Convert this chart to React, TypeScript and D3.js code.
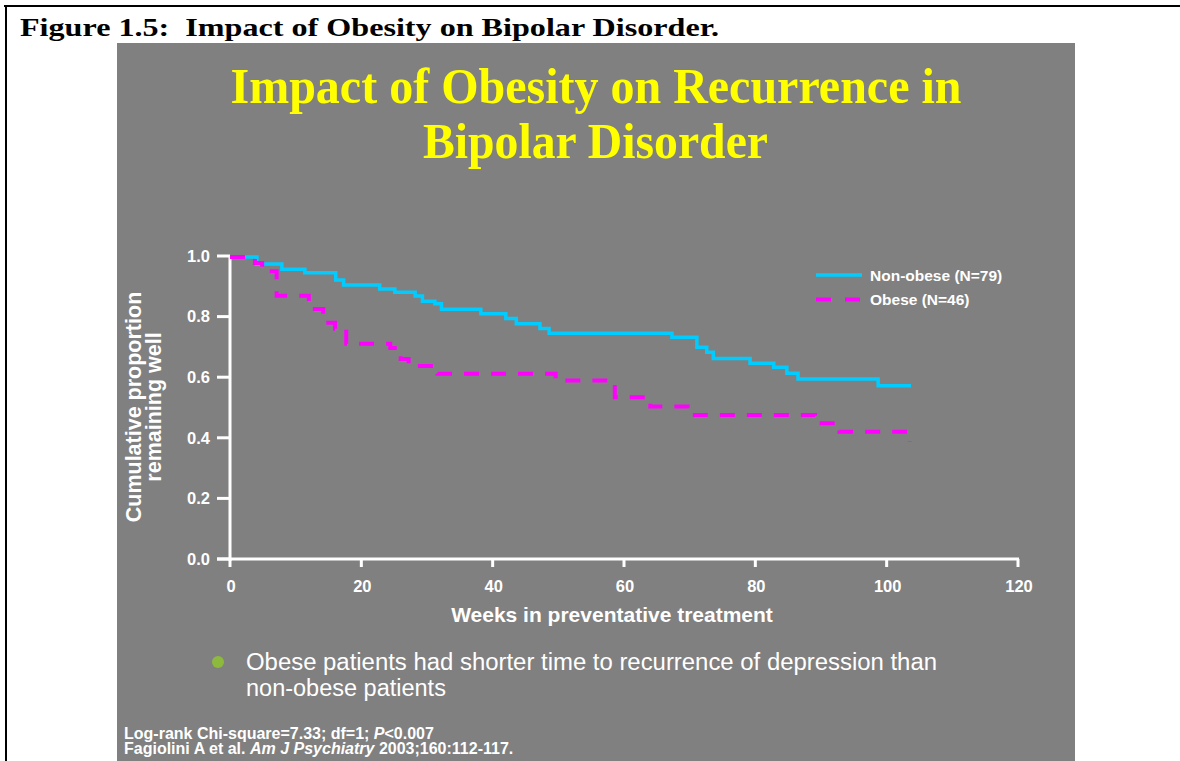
import React from "react";
import * as d3 from "d3";

// ---- Data ----
const xTickValues = [0, 20, 40, 60, 80, 100, 120];
const yTickValues = [0, 0.2, 0.4, 0.6, 0.8, 1.0];

const nonObeseWeeks = [0, 4.1, 7.9, 11.4, 16.1, 17.3, 22.8, 25.1, 28.2, 29.3, 31.2, 32.2, 38.2, 42.0, 43.6, 47.2, 48.6, 67.3, 71.1, 72.6, 73.6, 79.2, 82.8, 84.8, 86.5, 98.7, 103.7];
const nonObeseValues = [0.997, 0.974, 0.956, 0.945, 0.921, 0.904, 0.891, 0.880, 0.868, 0.851, 0.842, 0.824, 0.809, 0.794, 0.776, 0.761, 0.745, 0.732, 0.699, 0.682, 0.662, 0.646, 0.633, 0.613, 0.594, 0.572, 0.572];

const obeseWeeks = [0, 3.8, 4.9, 7.1, 12.0, 14.2, 16.0, 17.7, 24.4, 26.0, 27.2, 31.6, 49.6, 58.6, 64.0, 69.7, 89.1, 92.8, 103.5];
const obeseValues = [0.997, 0.977, 0.950, 0.869, 0.825, 0.780, 0.760, 0.710, 0.696, 0.660, 0.637, 0.611, 0.589, 0.534, 0.503, 0.475, 0.448, 0.420, 0.387];

const seriesNames = ["Non-obese (N=79)", "Obese (N=46)"];

const W = 1180;
const H = 761;

export default function App() {
  const x = d3.scaleLinear().domain([0, 120]).range([230, 1018]);
  const y = d3.scaleLinear().domain([0, 1]).range([559, 256]);
  const fmt = d3.format(".1f");

  const line = d3
    .line<[number, number]>()
    .x((d) => x(d[0]))
    .y((d) => y(d[1]))
    .curve(d3.curveStepAfter);

  const nonObese = nonObeseWeeks.map((w, i) => [w, nonObeseValues[i]] as [number, number]);
  const obese = obeseWeeks.map((w, i) => [w, obeseValues[i]] as [number, number]);

  const sans = "'Liberation Sans', Arial, sans-serif";
  const serif = "'Liberation Serif', 'Times New Roman', serif";
  const cyan = "#00CCFF";
  const magenta = "#FF00FF";

  return (
    <svg
      width={W}
      height={H}
      style={{ position: "absolute", left: 0, top: 0, display: "block" }}
    >
      <rect x={0} y={0} width={W} height={H} fill="#ffffff" />
      {/* frame */}
      <line x1={4} x2={W} y1={6} y2={6} stroke="#000" strokeWidth={2} />
      <line x1={6} x2={6} y1={5} y2={H} stroke="#000" strokeWidth={2} />
      <text
        x={20}
        y={36}
        fontFamily={serif}
        fontWeight="bold"
        fontSize={25}
        fill="#000"
        style={{ whiteSpace: "pre" }}
        textLength={699}
        lengthAdjust="spacingAndGlyphs"
      >
        {"Figure 1.5:  Impact of Obesity on Bipolar Disorder."}
      </text>

      {/* slide */}
      <rect x={117} y={43} width={958} height={H - 43} fill="#808080" />

      <text
        x={596}
        y={103}
        textAnchor="middle"
        fontFamily={serif}
        fontWeight="bold"
        fontSize={50}
        fill="#FFFF00"
        textLength={731}
        lengthAdjust="spacingAndGlyphs"
      >
        Impact of Obesity on Recurrence in
      </text>
      <text
        x={595.5}
        y={158}
        textAnchor="middle"
        fontFamily={serif}
        fontWeight="bold"
        fontSize={50}
        fill="#FFFF00"
        textLength={345}
        lengthAdjust="spacingAndGlyphs"
      >
        Bipolar Disorder
      </text>

      {/* axes */}
      <g stroke="#fff" strokeWidth={3}>
        <line x1={230} x2={230} y1={y(1) - 1} y2={y(0) + 2} />
        <line x1={217} x2={x(120) + 1} y1={y(0)} y2={y(0)} />
        {yTickValues.map((v) => (
          <line key={"yt" + v} x1={217} x2={230} y1={y(v)} y2={y(v)} />
        ))}
        {xTickValues.map((v) => (
          <line key={"xt" + v} x1={x(v)} x2={x(v)} y1={y(0)} y2={y(0) + 8} />
        ))}
      </g>
      <g fontFamily={sans} fontWeight="bold" fontSize={16.5} fill="#fff">
        {yTickValues.map((v) => (
          <text key={"yl" + v} x={210} y={y(v)} dy="0.35em" textAnchor="end">
            {fmt(v)}
          </text>
        ))}
        {xTickValues.map((v) => (
          <text key={"xl" + v} x={x(v) + 1} y={592} textAnchor="middle">
            {v}
          </text>
        ))}
      </g>
      <text
        x={612}
        y={622}
        textAnchor="middle"
        fontFamily={sans}
        fontWeight="bold"
        fontSize={21}
        fill="#fff"
      >
        Weeks in preventative treatment
      </text>
      <g fontFamily={sans} fontWeight="bold" fontSize={21.5} fill="#fff" textAnchor="middle">
        <text transform="translate(141,407) rotate(-90)">Cumulative proportion</text>
        <text transform="translate(161,407) rotate(-90)">remaining well</text>
      </g>

      {/* curves */}
      <path d={line(nonObese) || ""} fill="none" stroke={cyan} strokeWidth={3.5} />
      <path
        d={line(obese) || ""}
        fill="none"
        stroke={magenta}
        strokeWidth={4}
        strokeDasharray="15 12"
      />

      {/* legend */}
      <line x1={816} x2={862} y1={275} y2={275} stroke={cyan} strokeWidth={3.5} />
      <line x1={816} x2={862} y1={299.5} y2={299.5} stroke={magenta} strokeWidth={4} strokeDasharray="15 14" />
      <g fontFamily={sans} fontWeight="bold" fontSize={15.5} fill="#fff">
        <text x={870} y={281}>{seriesNames[0]}</text>
        <text x={870} y={305}>{seriesNames[1]}</text>
      </g>

      {/* bullet */}
      <circle cx={218} cy={662} r={6} fill="#8DBA3C" />
      <g fontFamily={sans} fontSize={23.5} fill="#fff">
        <text x={246} y={670} textLength={691} lengthAdjust="spacingAndGlyphs">
          Obese patients had shorter time to recurrence of depression than
        </text>
        <text x={246} y={696}>non-obese patients</text>
      </g>

      {/* footnote */}
      <g fontFamily={sans} fontWeight="bold" fontSize={16} fill="#fff">
        <text x={124} y={739}>
          Log-rank Chi-square=7.33; df=1; <tspan fontStyle="italic">P</tspan>&lt;0.007
        </text>
        <text x={124} y={754}>
          Fagiolini A et al. <tspan fontStyle="italic">Am J Psychiatry</tspan> 2003;160:112-117.
        </text>
      </g>
    </svg>
  );
}
